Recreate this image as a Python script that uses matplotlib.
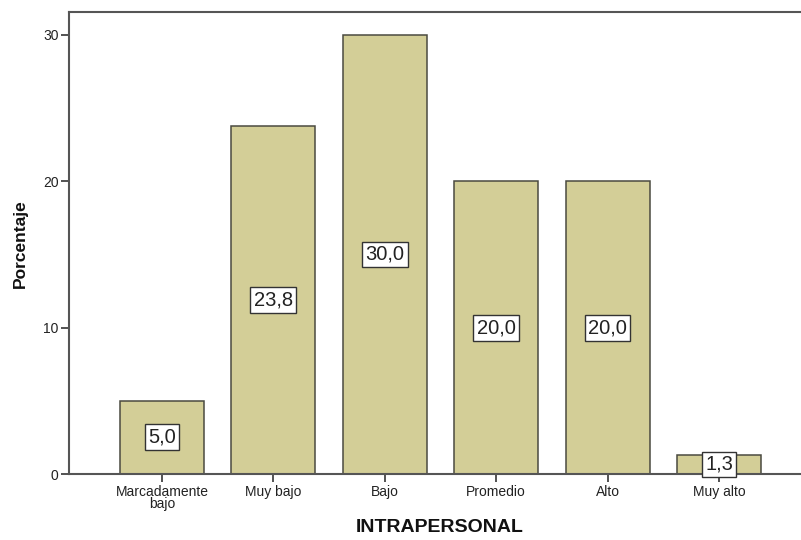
import matplotlib.pyplot as plt

categorias = ['Marcadamente\nbajo', 'Muy bajo', 'Bajo', 'Promedio', 'Alto', 'Muy alto']
porcentaje = [5.0, 23.8, 30.0, 20.0, 20.0, 1.3]
yticks = [0, 10, 20, 30]

plt.rcParams['font.family'] = ['Liberation Sans', 'DejaVu Sans']

fig = plt.figure(figsize=(8.01, 5.40), dpi=100)
ax = fig.add_axes([69 / 801, 66 / 540, 1 - 69 / 801, (474 - 12) / 540])

x = range(len(categorias))
ax.bar(x, porcentaje, width=0.755, color='#d3ce97', edgecolor='#4a4a40', linewidth=1.1, zorder=2)

# value boxes in the middle of each bar
for i, v in enumerate(porcentaje):
    ax.text(i, v / 2, f'{v:.1f}'.replace('.', ','), ha='center', va='center',
            fontsize=14.5, color='#222222', zorder=4,
            bbox=dict(boxstyle='square,pad=0.17', facecolor='white', edgecolor='#333333', linewidth=1))

ax.set_xlim(-0.835, 5.736)
ax.set_ylim(0, 31.57)
ax.set_xticks(list(x))
ax.set_xticklabels(categorias, fontsize=10, linespacing=0.85)
ax.set_yticks(yticks)
ax.set_yticklabels([str(t) for t in yticks], fontsize=10)

for s in ['left', 'bottom', 'top']:
    ax.spines[s].set_color('#555555')
    ax.spines[s].set_linewidth(1.5)
ax.spines['right'].set_visible(False)
ax.tick_params(axis='both', colors='#444444', width=1.3, length=6, labelcolor='#222222')
ax.tick_params(axis='y', pad=1.5)
ax.tick_params(axis='x', pad=2)

fig.text(440 / 801, 1 - 527 / 540, 'INTRAPERSONAL', ha='center', va='center',
         fontsize=14, fontweight='bold', color='#111111')
fig.text(20 / 801, 1 - 244 / 540, 'Porcentaje', ha='center', va='center', rotation=90,
         fontsize=12.5, fontweight='bold', color='#111111')

fig.savefig('out.png', dpi=100)
